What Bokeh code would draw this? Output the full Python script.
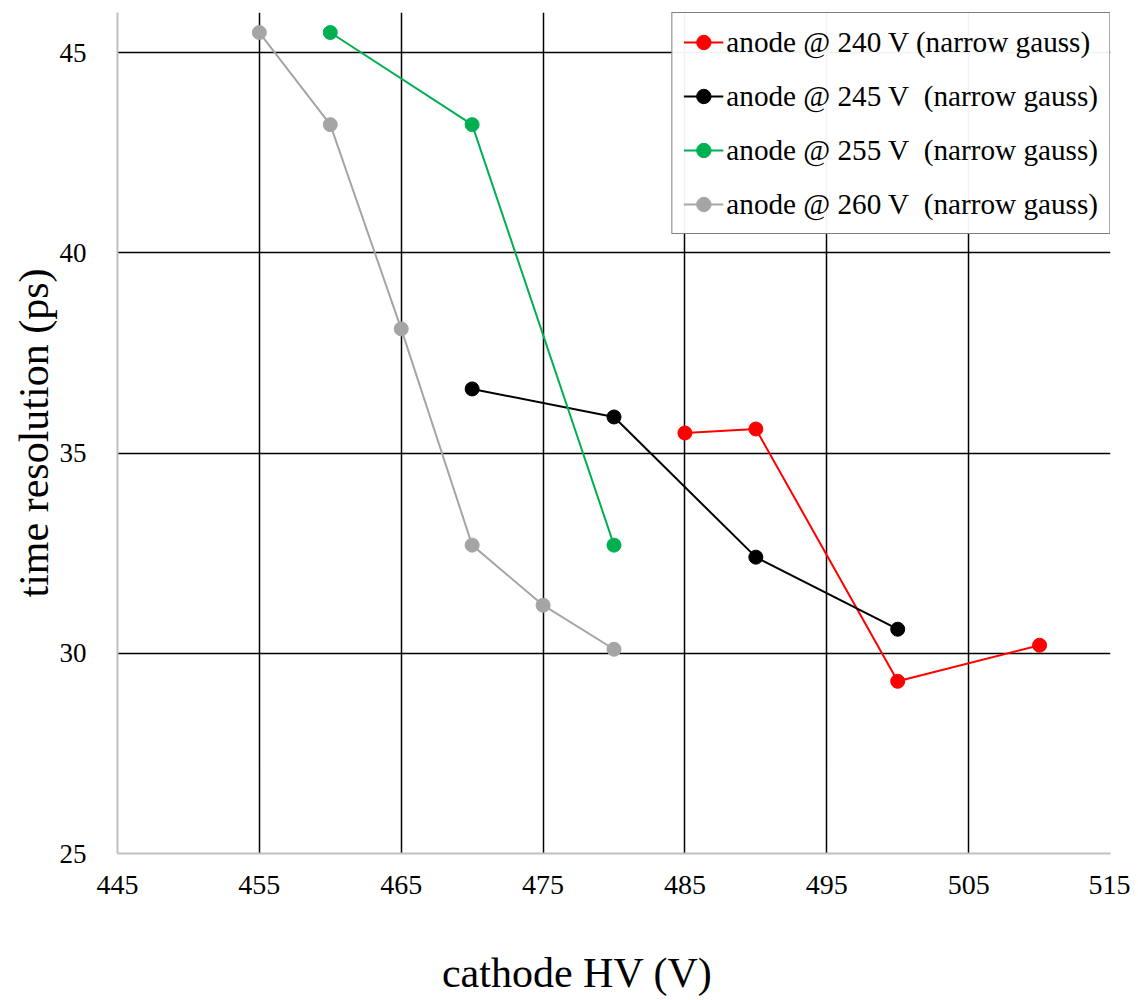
from bokeh.plotting import figure
from bokeh.models import Range1d, FixedTicker, Legend, LegendItem
from bokeh.embed import file_html
from bokeh.resources import INLINE

x240 = [485, 490, 500, 510]
y240 = [35.5, 35.6, 29.3, 30.2]
x245 = [470, 480, 490, 500]
y245 = [36.6, 35.9, 32.4, 30.6]
x255 = [460, 470, 480]
y255 = [45.5, 43.2, 32.7]
x260 = [455, 460, 465, 470, 475, 480]
y260 = [45.5, 43.2, 38.1, 32.7, 31.2, 30.1]

series = [
    ("anode @ 240 V (narrow gauss)", x240, y240, "#FF0000"),
    ("anode @ 245 V\u00a0 (narrow gauss)", x245, y245, "#000000"),
    ("anode @ 255 V\u00a0 (narrow gauss)", x255, y255, "#00B050"),
    ("anode @ 260 V\u00a0 (narrow gauss)", x260, y260, "#A5A5A5"),
]

x_ticks = [445, 455, 465, 475, 485, 495, 505, 515]
y_ticks = [25, 30, 35, 40, 45]

FONT = "Liberation Serif"

p = figure(width=1130, height=998, output_backend="svg", toolbar_location=None,
           x_range=Range1d(445, 515), y_range=Range1d(25, 46),
           min_border_left=117, min_border_right=20, min_border_top=12,
           min_border_bottom=145)
p.outline_line_color = None

p.xaxis.ticker = FixedTicker(ticks=x_ticks)
p.yaxis.ticker = FixedTicker(ticks=y_ticks)
p.xgrid.ticker = FixedTicker(ticks=[455, 465, 475, 485, 495, 505, 515])
p.ygrid.ticker = FixedTicker(ticks=[30, 35, 40, 45, 46])
for g in (p.xgrid, p.ygrid):
    g.grid_line_color = "black"
    g.grid_line_width = 1.5

for ax in (p.xaxis, p.yaxis):
    ax.axis_line_color = "#BFBFBF"
    ax.axis_line_width = 2
    ax.major_tick_line_color = None
    ax.minor_tick_line_color = None
    ax.major_label_text_font = FONT
    ax.major_label_text_color = "black"
    ax.axis_label_text_font = FONT
    ax.axis_label_text_font_size = "42px"
    ax.axis_label_text_font_style = "normal"
    ax.axis_label_text_color = "black"

p.xaxis.major_label_text_font_size = "28px"
p.yaxis.major_label_text_font_size = "27px"
# trailing no-break spaces shift the centred label left, as in the original
p.xaxis.axis_label = "cathode HV (V)" + "\u00a0" * 7
p.yaxis.axis_label = "time resolution (ps)"
p.xaxis.major_label_standoff = 16
p.xaxis.axis_label_standoff = 53
p.yaxis.major_label_standoff = 25
p.yaxis.axis_label_standoff = 0

items = []
for label, xs, ys, c in series:
    r1 = p.line(xs, ys, line_color=c, line_width=2)
    r2 = p.scatter(xs, ys, size=14, fill_color=c, line_color=c)
    items.append(LegendItem(label=label, renderers=[r1, r2]))

legend = Legend(items=items, location="top_right")
legend.label_text_font = FONT
legend.label_text_font_size = "29.2px"
legend.label_text_color = "black"
legend.border_line_color = "black"
legend.border_line_width = 1.5
legend.margin = 0
legend.padding = 11
legend.spacing = 18
legend.glyph_width = 40
legend.label_standoff = 3
legend.label_height = 36
legend.glyph_height = 36
p.add_layout(legend)

open("out.html", "w").write(file_html(p, INLINE))
